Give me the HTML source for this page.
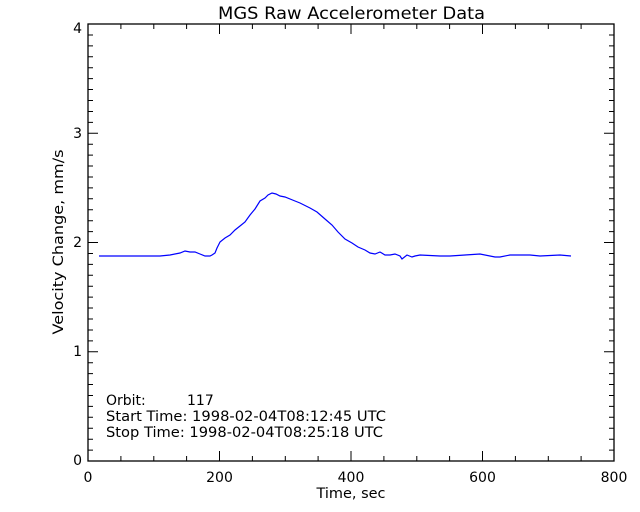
<!DOCTYPE html>
<html><head><style>body{margin:0;background:#fff}svg{display:block}text{font-family:"DejaVu Sans","Liberation Sans",sans-serif;font-size:14px;fill:#000}</style></head>
<body>
<svg width="640" height="512" viewBox="0 0 640 512" xmlns="http://www.w3.org/2000/svg">
<rect width="640" height="512" fill="#fff"/>
<text x="218" y="19" style="font-size:17px" textLength="267" lengthAdjust="spacingAndGlyphs">MGS Raw Accelerometer Data</text>
<rect x="88" y="24" width="526" height="437" fill="none" stroke="#000" stroke-width="1.3"/>
<g stroke="#000" stroke-width="1">
<path d="M219.5 461v-10M351 461v-10M482.5 461v-10M219.5 24v10M351 24v10M482.5 24v10
M120.9 461v-5M153.8 461v-5M186.6 461v-5M252.4 461v-5M285.3 461v-5M318.1 461v-5M383.9 461v-5M416.8 461v-5M449.6 461v-5M515.4 461v-5M548.3 461v-5M581.1 461v-5
M120.9 24v5M153.8 24v5M186.6 24v5M252.4 24v5M285.3 24v5M318.1 24v5M383.9 24v5M416.8 24v5M449.6 24v5M515.4 24v5M548.3 24v5M581.1 24v5
M88 351.75h10M88 242.5h10M88 133.25h10M614 351.75h-10M614 242.5h-10M614 133.25h-10"/>
<path id="m" d="M88 450.1h5M88 439.2h5M88 428.2h5M88 417.3h5M88 406.4h5M88 395.5h5M88 384.5h5M88 373.6h5M88 362.7h5"/>
<use href="#m" y="-109.25"/><use href="#m" y="-218.5"/><use href="#m" y="-327.75"/>
<path id="n" d="M614 450.1h-5M614 439.2h-5M614 428.2h-5M614 417.3h-5M614 406.4h-5M614 395.5h-5M614 384.5h-5M614 373.6h-5M614 362.7h-5"/>
<use href="#n" y="-109.25"/><use href="#n" y="-218.5"/><use href="#n" y="-327.75"/>
</g>
<g text-anchor="middle" style="font-size:15px">
<text x="88" y="482">0</text><text x="219.5" y="482">200</text><text x="351" y="482">400</text><text x="482.5" y="482">600</text><text x="614" y="482">800</text>
<text x="351" y="498" textLength="69" lengthAdjust="spacingAndGlyphs">Time, sec</text>
</g>
<g text-anchor="end" style="font-size:15px">
<text x="82" y="465">0</text><text x="82" y="356">1</text><text x="82" y="247">2</text><text x="82" y="138">3</text><text x="82" y="33">4</text>
</g>
<text transform="translate(63 242) rotate(-90)" text-anchor="middle" textLength="185" lengthAdjust="spacingAndGlyphs">Velocity Change, mm/s</text>
<text x="106" y="405">Orbit:</text><text x="187" y="405">117</text>
<text x="106" y="421" textLength="280" lengthAdjust="spacingAndGlyphs">Start Time: 1998-02-04T08:12:45 UTC</text>
<text x="106" y="437" textLength="277" lengthAdjust="spacingAndGlyphs">Stop Time: 1998-02-04T08:25:18 UTC</text>
<polyline fill="none" stroke="#0000ff" stroke-width="1.2" points="99,256 115,256 130,256 145,256 160,256 170,255 180,253 185,251 190,252 195,252 200,254 205,256 210,256 212,255 215,253 217,248 220,242 225,238 230,235 235,230 240,226 245,222 250,215 255,209 260,201 265,198 268,195 272,193 276,194 280,196 285,197 295,201 300,203 310,208 317,212 325,219 332,225 338,232 345,239 352,243 358,247 365,250 370,253 375,254 380,252 385,255 390,255 395,254 400,256 402,259 407,255 412,257 415,256 420,255 440,256 450,256 465,255 480,254 495,257 500,257 510,255 530,255 540,256 560,255 571,256"/>
</svg>
</body></html>
